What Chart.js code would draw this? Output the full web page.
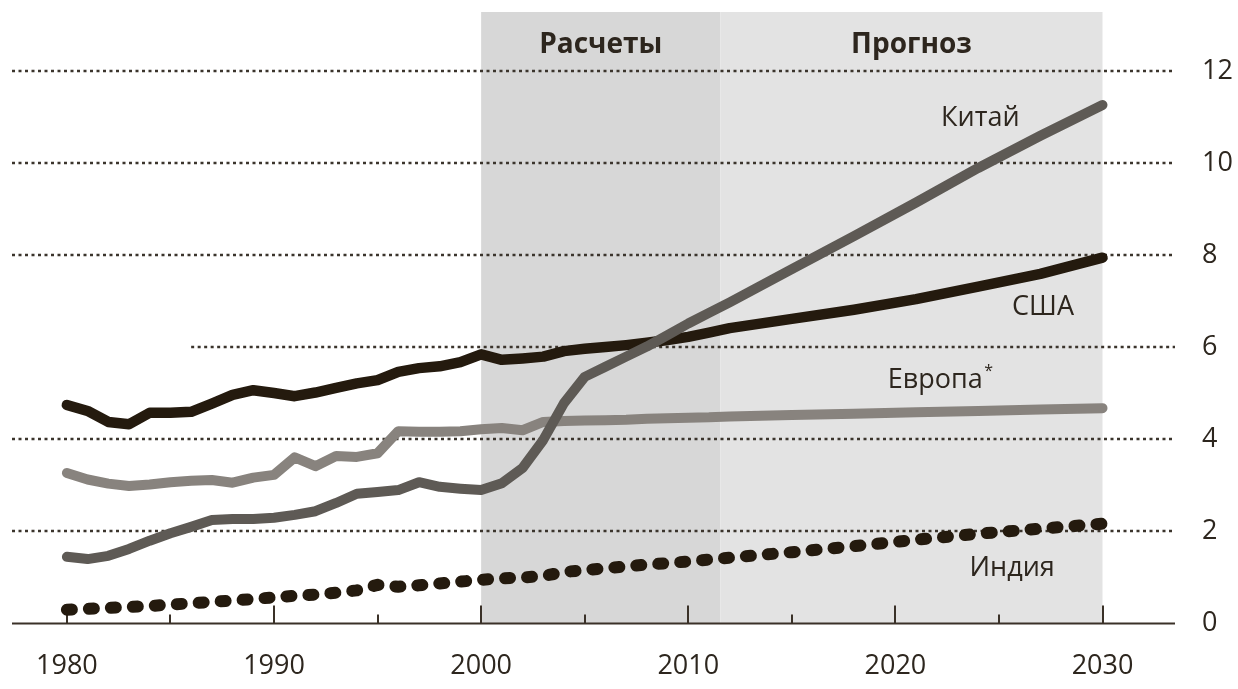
<!DOCTYPE html>
<html>
<head>
<meta charset="utf-8">
<script src="https://cdn.jsdelivr.net/npm/chart.js@4.4.1/dist/chart.umd.min.js"></script>
<style>
  html, body { margin: 0; padding: 0; background: #fff; }
  #wrap { width: 1238px; height: 689px; }
</style>
</head>
<body>
<div id="wrap"><canvas id="chart" width="1238" height="689"></canvas></div>
<script>
// Data
const years = [1980, 1981, 1982, 1983, 1984, 1985, 1986, 1987, 1988, 1989,
               1990, 1991, 1992, 1993, 1994, 1995, 1996, 1997, 1998, 1999,
               2000, 2001, 2002, 2003, 2004, 2005, 2006, 2007, 2008, 2009,
               2010, 2011, 2012, 2015, 2018, 2021, 2024, 2027, 2030];

const china = [1.45, 1.40, 1.47, 1.62, 1.80, 1.96, 2.10, 2.25, 2.27, 2.27,
               2.30, 2.36, 2.44, 2.62, 2.82, 2.86, 2.90, 3.07, 2.97, 2.93,
               2.90, 3.05, 3.38, 3.99, 4.79, 5.36, 5.58, 5.80, 6.02, 6.27,
               6.52, 6.75, 6.98, 7.70, 8.42, 9.15, 9.90, 10.60, 11.27];

const usa = [4.75, 4.62, 4.38, 4.33, 4.58, 4.58, 4.60, 4.78, 4.97, 5.07,
             5.01, 4.94, 5.02, 5.12, 5.22, 5.29, 5.47, 5.55, 5.59, 5.68,
             5.85, 5.73, 5.76, 5.80, 5.92, 5.97, 6.01, 6.05, 6.10, 6.16,
             6.23, 6.32, 6.42, 6.62, 6.82, 7.05, 7.32, 7.60, 7.95];

const europe = [3.27, 3.13, 3.04, 2.99, 3.02, 3.07, 3.10, 3.12, 3.06, 3.17,
                3.23, 3.61, 3.42, 3.64, 3.62, 3.70, 4.18, 4.17, 4.17, 4.18,
                4.22, 4.25, 4.20, 4.38, 4.40, 4.41, 4.42, 4.43, 4.45, 4.46,
                4.47, 4.48, 4.50, 4.53, 4.56, 4.59, 4.62, 4.65, 4.68];

const india = [0.30, 0.32, 0.34, 0.36, 0.38, 0.41, 0.44, 0.47, 0.50, 0.53,
               0.57, 0.60, 0.63, 0.67, 0.72, 0.84, 0.80, 0.83, 0.87, 0.91,
               0.95, 0.98, 1.00, 1.03, 1.12, 1.16, 1.20, 1.24, 1.28, 1.31,
               1.35, 1.39, 1.43, 1.55, 1.68, 1.82, 1.95, 2.06, 2.17];

const xTicks = [1980, 1985, 1990, 1995, 2000, 2005, 2010, 2015, 2020, 2025, 2030];
const yTicks = [0, 2, 4, 6, 8, 10, 12];
const gridValues = [2, 4, 6, 8, 10, 12];

const periodLabels = ['Расчеты', 'Прогноз'];
const periodFrom = [2000, 2011.55];
const periodTo = [2011.55, 2030];

// Styles
const ink = '#2d261e';
const FONT = '"Open Sans", "Noto Sans", sans-serif';
const periodColors = ['#d7d7d7', '#e3e3e3'];
const gridStartYear = { 6: 1986 };   // the 6 line starts later

const pts = vals => years.map((x, i) => ({ x, y: vals[i] }));

const seriesLabels = [
    { text: 'Китай', x: 2024.1, y: 10.99 },
    { text: 'США', x: 2027.13, y: 6.88 },
    { text: 'Европа', x: 2021.92, y: 5.29, star: true },
    { text: 'Индия', x: 2025.64, y: 1.21 }
];

const decor = {
    id: 'decor',
    beforeDatasetsDraw(chart) {
        const { ctx, chartArea: a, scales: { x, y } } = chart;
        ctx.save();

        // shaded periods + titles
        periodLabels.forEach((lbl, i) => {
            const x0 = x.getPixelForValue(periodFrom[i]);
            const x1 = x.getPixelForValue(periodTo[i]);
            ctx.fillStyle = periodColors[i];
            ctx.fillRect(x0, a.top, x1 - x0, a.bottom - a.top);
            ctx.fillStyle = ink;
            ctx.font = 'bold 28px ' + FONT;
            ctx.textAlign = 'center';
            ctx.textBaseline = 'middle';
            ctx.fillText(lbl, (x0 + x1) / 2, a.top + 33);
        });

        // dotted grid
        ctx.strokeStyle = '#3b342c';
        ctx.lineWidth = 2.5;
        ctx.setLineDash([3, 3.5]);
        gridValues.forEach(v => {
            const py = Math.round(y.getPixelForValue(v));
            const sx = gridStartYear[v] ? x.getPixelForValue(gridStartYear[v]) : a.left;
            ctx.beginPath();
            ctx.moveTo(sx, py);
            ctx.lineTo(a.right, py);
            ctx.stroke();
        });
        ctx.setLineDash([]);

        // x axis line + upward ticks
        const base = y.getPixelForValue(0);
        ctx.strokeStyle = '#3a3128';
        ctx.lineWidth = 2;
        ctx.beginPath();
        ctx.moveTo(a.left, base);
        ctx.lineTo(a.right, base);
        ctx.stroke();
        xTicks.forEach(t => {
            const px = Math.round(x.getPixelForValue(t));
            const len = t % 10 === 0 ? 18 : 9;
            ctx.beginPath();
            ctx.moveTo(px, base);
            ctx.lineTo(px, base - len);
            ctx.stroke();
        });
        ctx.restore();
    },
    afterDatasetsDraw(chart) {
        const { ctx, scales: { x, y } } = chart;
        ctx.save();
        ctx.fillStyle = ink;
        ctx.font = '27px ' + FONT;
        ctx.textAlign = 'center';
        ctx.textBaseline = 'middle';
        seriesLabels.forEach(l => {
            const px = x.getPixelForValue(l.x);
            const py = y.getPixelForValue(l.y);
            ctx.fillText(l.text, px, py);
            if (l.star) {
                const w = ctx.measureText(l.text).width;
                ctx.font = '16px ' + FONT;
                ctx.fillText('*', px + w / 2 + 6, py - 9);
                ctx.font = '27px ' + FONT;
            }
        });
        ctx.restore();
    }
};

const lineBase = {
    pointRadius: 0,
    borderWidth: 10.5,
    borderCapStyle: 'round',
    borderJoinStyle: 'round',
    fill: false,
    tension: 0
};

new Chart(document.getElementById('chart'), {
    type: 'line',
    data: {
        datasets: [
            { ...lineBase, label: 'Китай', data: pts(china), borderColor: '#5e5a55', borderWidth: 10 },
            { ...lineBase, label: 'США', data: pts(usa), borderColor: '#241a0e' },
            { ...lineBase, label: 'Европа', data: pts(europe), borderColor: '#88837e', borderWidth: 10 },
            { ...lineBase, label: 'Индия', data: pts(india), borderColor: '#241a0e',
              borderWidth: 12, borderDash: [5, 17] }
        ]
    },
    options: {
        responsive: false,
        devicePixelRatio: 1,
        animation: false,
        layout: { padding: { top: 12, left: 12, right: 0, bottom: 0 } },
        plugins: { legend: { display: false }, tooltip: { enabled: false } },
        scales: {
            x: {
                type: 'linear',
                min: 1977.35,
                max: 2033.5,
                grid: { display: false, drawTicks: false },
                border: { display: false },
                afterBuildTicks: s => { s.ticks = xTicks.map(v => ({ value: v })); },
                afterFit: s => { s.height = 65.5; s.paddingLeft = 0; s.paddingRight = 0; },
                ticks: {
                    autoSkip: false,
                    maxRotation: 0,
                    padding: 27,
                    color: ink,
                    font: { family: FONT, size: 27 },
                    callback: v => (v % 10 === 0 ? String(v) : '')
                }
            },
            y: {
                position: 'right',
                min: 0,
                max: 13.29,
                grid: { display: false, drawTicks: false },
                border: { display: false },
                afterBuildTicks: s => { s.ticks = yTicks.map(v => ({ value: v })); },
                afterFit: s => { s.width = 63; s.paddingTop = 0; s.paddingBottom = 0; },
                ticks: {
                    padding: 27,
                    color: ink,
                    font: { family: FONT, size: 27 },
                    callback: v => String(v)
                }
            }
        }
    },
    plugins: [decor]
});
</script>
</body>
</html>
